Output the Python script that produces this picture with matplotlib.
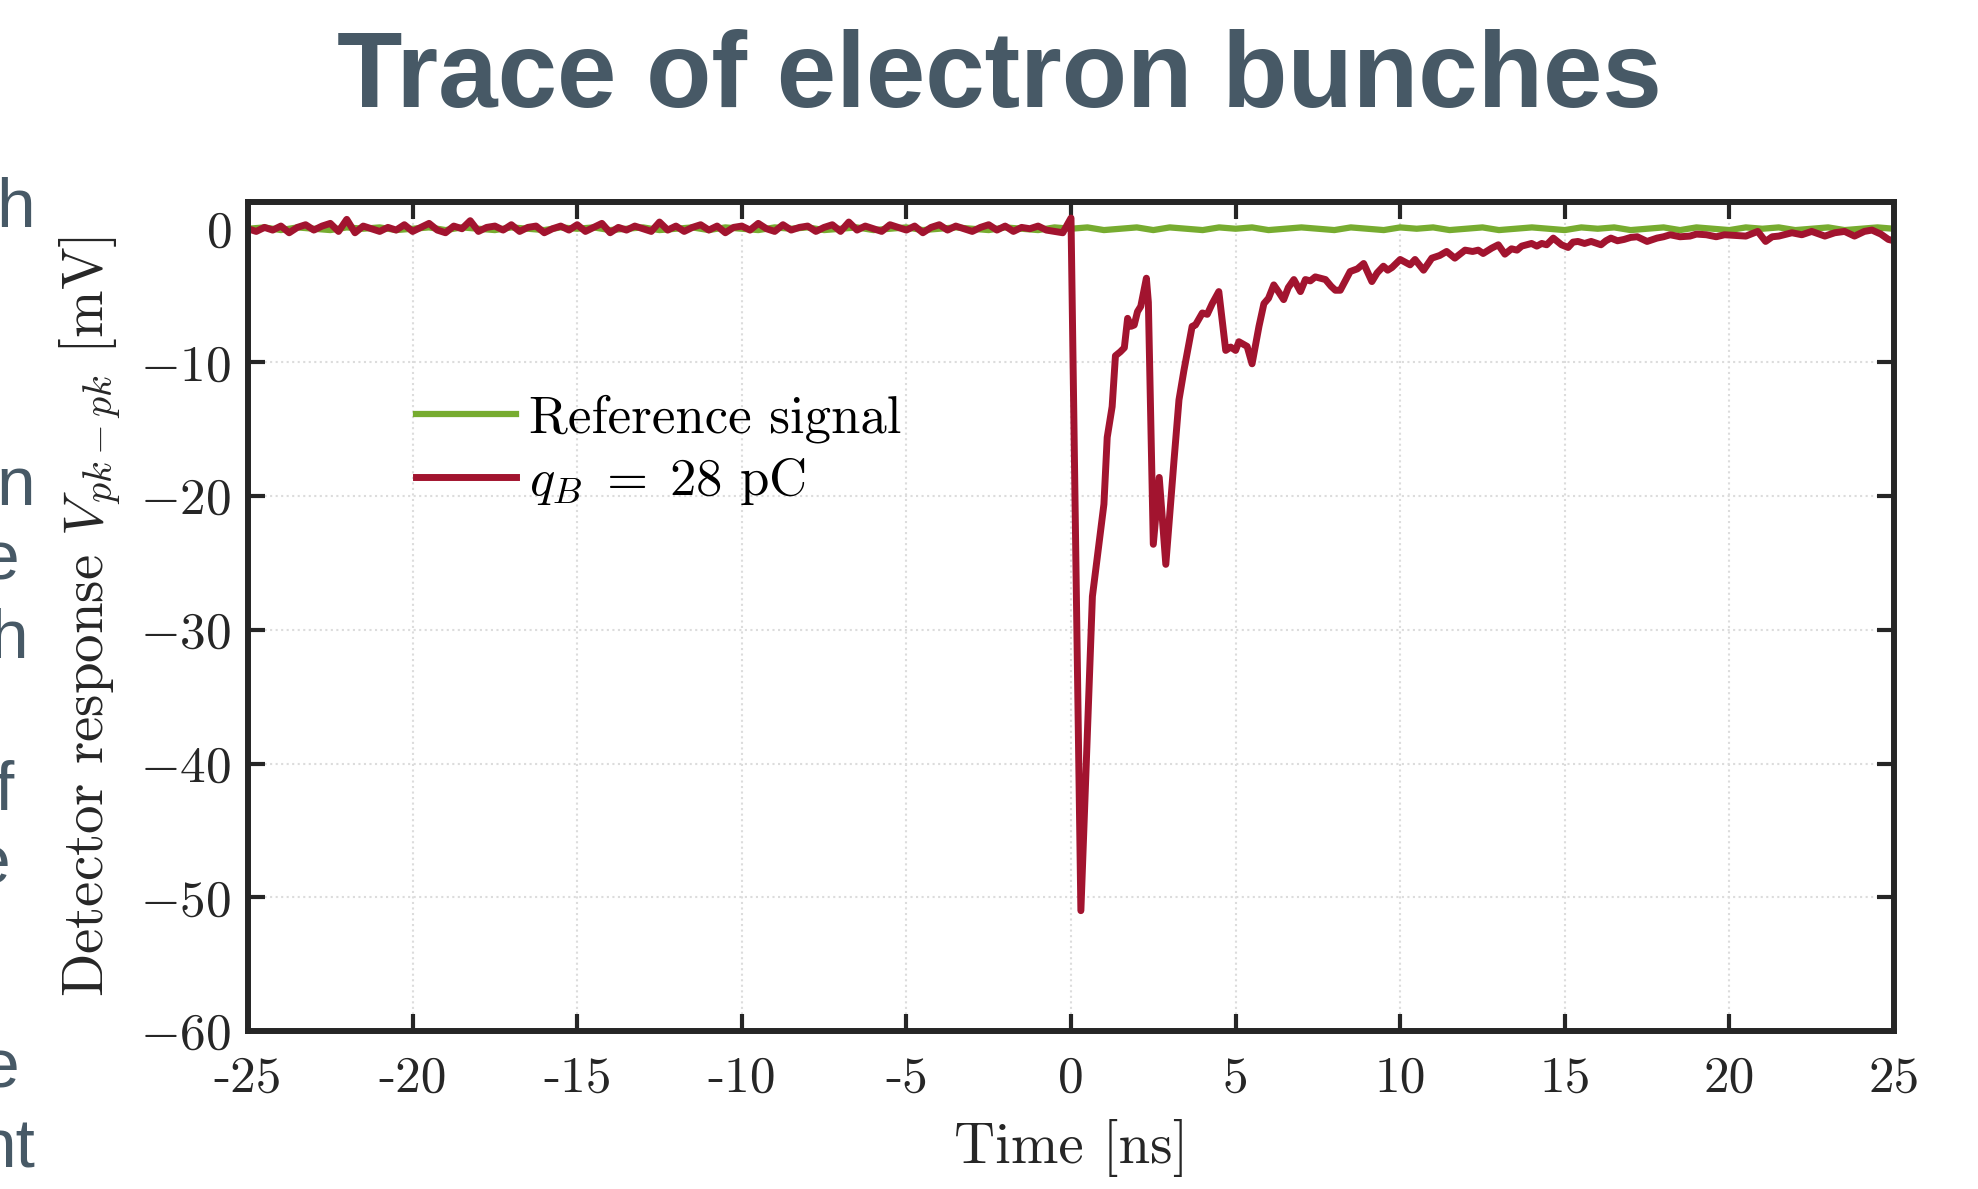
import numpy as np
import matplotlib
matplotlib.use("Agg")
import matplotlib.pyplot as plt

# ---- data ----
# red trace before the bunch arrives, sampled every 0.25 ns from -25 ns
red_base_start = -25.0
red_base_step = 0.25
red_base_mv = [
    0.0, -0.2, 0.1, -0.1, 0.2, -0.3, 0.1, 0.3, -0.1, 0.2,
    0.4, -0.2, 0.7, -0.3, 0.2, 0.0, -0.2, 0.1, -0.1, 0.3,
    -0.2, 0.1, 0.4, -0.1, -0.3, 0.2, 0.0, 0.6, -0.2, 0.1,
    0.2, -0.1, 0.3, -0.2, 0.1, 0.2, -0.3, 0.0, 0.2, -0.1,
    0.3, -0.2, 0.1, 0.4, -0.3, 0.1, -0.1, 0.2, 0.0, -0.2,
    0.5, -0.1, 0.2, -0.2, 0.1, 0.3, -0.1, 0.2, -0.3, 0.1,
    0.2, -0.1, 0.4, 0.0, -0.2, 0.3, -0.1, 0.1, 0.2, -0.2,
    0.1, 0.3, -0.2, 0.5, -0.1, 0.2, 0.0, -0.2, 0.3, 0.1,
    -0.1, 0.2, -0.3, 0.1, 0.3, -0.1, 0.2, 0.0, -0.2, 0.1,
    0.3, -0.1, 0.2, -0.2, 0.1, 0.0, 0.2, -0.1, -0.2, -0.3,
]

# red trace from the bunch onwards
red_pulse_ns = [
    0.0, 0.3, 0.65, 1.0, 1.1, 1.25, 1.35, 1.5, 1.62, 1.72,
    1.82, 1.92, 2.02, 2.12, 2.29, 2.35, 2.5, 2.68, 2.88, 3.13,
    3.28, 3.43, 3.68, 3.78, 3.99, 4.14, 4.29, 4.49, 4.7, 4.85,
    5.0, 5.1, 5.35, 5.5, 5.71, 5.86, 6.0, 6.16, 6.3, 6.46,
    6.6, 6.77, 6.97, 7.12, 7.27, 7.42, 7.58, 7.73, 7.9, 8.03,
    8.18, 8.33, 8.48, 8.7, 8.89, 9.14, 9.3, 9.49, 9.62, 9.75,
    10.0, 10.15, 10.3, 10.45, 10.71, 10.96, 11.2, 11.41, 11.66, 11.97,
    12.2, 12.37, 12.52, 12.78, 12.98, 13.18, 13.38, 13.55, 13.69, 13.99,
    14.15, 14.3, 14.45, 14.65, 14.9, 15.1, 15.25, 15.4, 15.6, 15.8,
    16.1, 16.25, 16.4, 16.6, 16.8, 17.0, 17.2, 17.5, 17.8, 18.0,
    18.2, 18.5, 18.8, 19.0, 19.3, 19.6, 19.85, 20.2, 20.5, 20.86,
    21.1, 21.3, 21.5, 21.9, 22.2, 22.5, 22.9, 23.2, 23.5, 23.8,
    24.1, 24.33, 24.6, 24.83, 25.0,
]
red_pulse_mv = [
    0.8, -51.0, -27.5, -20.6, -15.6, -13.3, -9.5, -9.2, -8.9, -6.7,
    -7.3, -7.2, -6.2, -5.8, -3.7, -5.5, -23.6, -18.6, -25.1, -17.3,
    -12.8, -10.6, -7.3, -7.2, -6.3, -6.4, -5.6, -4.7, -9.1, -8.85,
    -9.1, -8.45, -8.8, -10.1, -7.3, -5.6, -5.2, -4.2, -4.7, -5.3,
    -4.4, -3.8, -4.7, -3.8, -3.9, -3.6, -3.7, -3.8, -4.3, -4.6,
    -4.6, -3.9, -3.2, -3.0, -2.6, -3.95, -3.3, -2.8, -3.1, -2.9,
    -2.3, -2.5, -2.7, -2.3, -3.1, -2.2, -2.0, -1.7, -2.2, -1.6,
    -1.7, -1.6, -1.85, -1.45, -1.2, -1.9, -1.5, -1.6, -1.3, -1.1,
    -1.3, -1.1, -1.2, -0.7, -1.2, -1.4, -1.0, -0.95, -1.1, -0.95,
    -1.2, -0.9, -0.7, -0.9, -0.8, -0.65, -0.6, -0.95, -0.7, -0.6,
    -0.45, -0.6, -0.55, -0.4, -0.45, -0.6, -0.45, -0.5, -0.55, -0.2,
    -0.95, -0.6, -0.55, -0.3, -0.45, -0.2, -0.55, -0.3, -0.2, -0.55,
    -0.2, -0.1, -0.4, -0.8, -0.9,
]

# green reference signal, sampled every 0.5 ns from -25 ns
green_start = -25.0
green_step = 0.5
green_mv = [
    0.0, 0.1, -0.1, 0.1, 0.0, -0.1, 0.1, 0.0, 0.1, -0.1,
    0.0, 0.1, -0.1, 0.1, 0.0, -0.1, 0.1, 0.0, -0.1, 0.1,
    0.0, 0.1, -0.1, 0.0, 0.1, -0.1, 0.0, 0.1, -0.1, 0.1,
    0.0, -0.1, 0.1, 0.0, 0.1, -0.1, 0.0, 0.1, -0.1, 0.0,
    0.1, -0.1, 0.0, 0.1, 0.0, -0.1, 0.1, 0.0, -0.1, 0.1,
    0.0, 0.1, -0.1, 0.0, 0.1, -0.1, 0.1, 0.0, -0.1, 0.1,
    0.0, 0.1, -0.1, 0.0, 0.1, 0.0, -0.1, 0.1, 0.0, -0.1,
    0.1, 0.0, 0.1, -0.1, 0.0, 0.1, -0.1, 0.0, 0.1, 0.0,
    -0.1, 0.1, 0.0, 0.1, -0.1, 0.0, 0.1, -0.1, 0.1, 0.0,
    -0.1, 0.1, 0.0, 0.1, -0.1, 0.0, 0.1, -0.1, 0.0, 0.1,
    0.0,
]

x_ticks = [-25, -20, -15, -10, -5, 0, 5, 10, 15, 20, 25]
y_ticks = [0, -10, -20, -30, -40, -50, -60]

# cut-off words of the slide text at the left edge: (letters, right edge px, baseline px)
side_letters = [
    ("h", 35, 227), ("n", 35, 505), ("e", 20, 580), ("h", 28, 658),
    ("f", 14, 810), ("e", 11, 883), ("e", 20, 1087), ("nt", 35, 1167),
]

GREEN = "#77ac30"
RED = "#a2142f"
SLATE = "#475966"
INK = "#262626"

plt.rcParams["mathtext.fontset"] = "cm"
plt.rcParams["font.family"] = "cmr10"
plt.rcParams["axes.unicode_minus"] = False

W, H = 1978, 1189
fig = plt.figure(figsize=(W / 100, H / 100), dpi=100)
ax = fig.add_axes([248 / W, 1 - 1031 / H, (1894 - 248) / W, (1031 - 202) / H])

red_base_ns = red_base_start + red_base_step * np.arange(len(red_base_mv))
red_ns = np.concatenate([red_base_ns, red_pulse_ns])
red_mv = np.concatenate([red_base_mv, red_pulse_mv])
green_ns = green_start + green_step * np.arange(len(green_mv))

ax.plot(green_ns, green_mv, color=GREEN, lw=4.5, label="Reference signal")
ax.plot(red_ns, red_mv, color=RED, lw=5, label=r"$q_B\;=\;28$ pC")

ax.set_xlim(-25, 25)
ax.set_ylim(-60, 2)
ax.set_xticks(x_ticks)
ax.set_xticklabels([str(t) for t in x_ticks])
ax.set_yticks(y_ticks)
ax.set_yticklabels(["$0$" if t == 0 else "$%d$" % t for t in y_ticks])
ax.tick_params(direction="in", length=12, width=3, color=INK, labelcolor=INK,
               labelsize=37, top=True, right=True)
ax.tick_params(axis="x", pad=18)
ax.tick_params(axis="y", pad=12)
for sp in ax.spines.values():
    sp.set_linewidth(4.3)
    sp.set_color(INK)
ax.grid(True, ls=":", lw=1.5, color="#dcdcdc")

ax.set_xlabel("Time [ns]", fontsize=41, color=INK, labelpad=12)
ax.set_ylabel(r"Detector response $V_{pk-pk}$ [mV]", fontsize=41, color=INK, labelpad=12)

ax.legend(loc="upper left", bbox_to_anchor=(0.102, 0.768), frameon=False,
          fontsize=38, handlelength=1.9, handletextpad=0.25, borderpad=0,
          borderaxespad=0, labelspacing=0.25)

fig.text(0.5055, 1 - 79 / H, "Trace of electron bunches", ha="center", va="center",
         fontsize=77, fontweight="bold", color=SLATE, family="Liberation Sans")

for letters, right_px, base_px in side_letters:
    fig.text(right_px / W, 1 - base_px / H, letters, ha="right", va="baseline",
             fontsize=50, color=SLATE, family="Liberation Sans")

fig.savefig("out.png", dpi=100)
